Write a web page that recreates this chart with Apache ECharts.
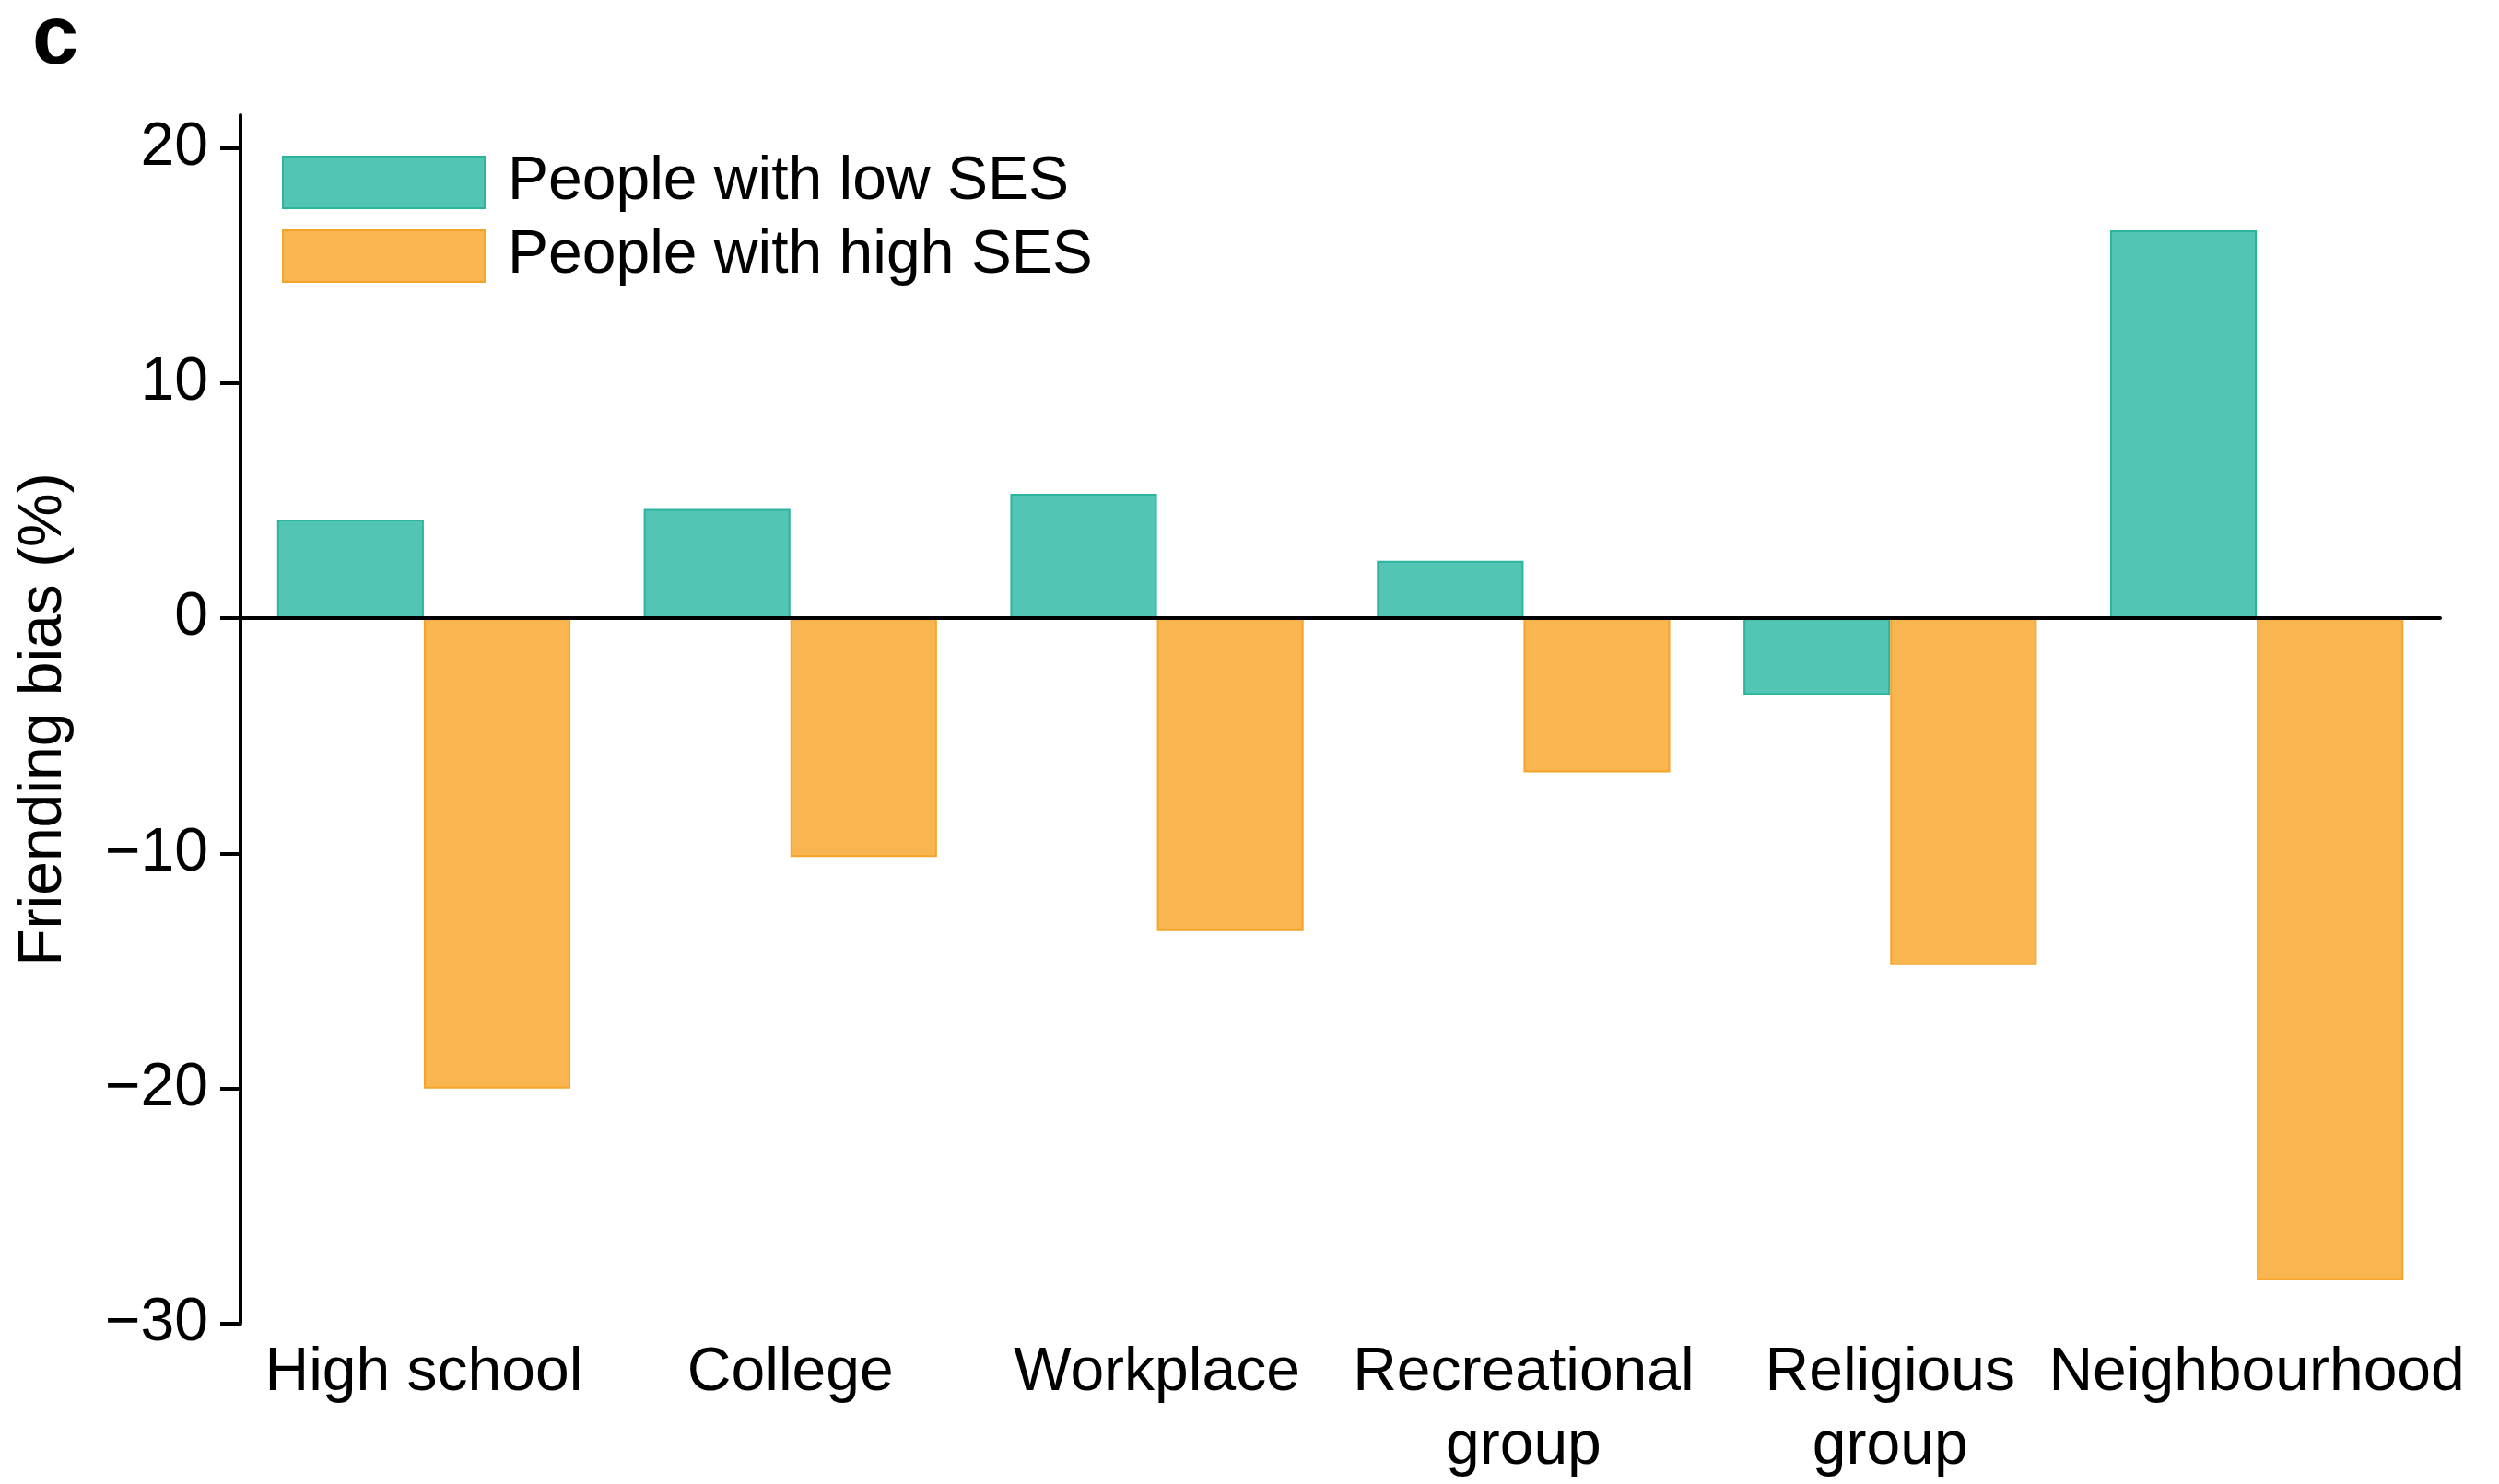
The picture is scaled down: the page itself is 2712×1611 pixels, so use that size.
<!DOCTYPE html>
<html>
<head>
<meta charset="utf-8">
<script src="https://cdn.jsdelivr.net/npm/echarts@6/dist/echarts.min.js"></script>
<style>
html,body{margin:0;padding:0;background:#fff;}
#chart{width:2712px;height:1611px;}
</style>
</head>
<body>
<div id="chart"></div>
<script>
const categories = ['High school', 'College', 'Workplace', 'Recreational\ngroup', 'Religious\ngroup', 'Neighbourhood'];
const lowSES = [4.2, 4.65, 5.3, 2.45, -3.25, 16.5];
const highSES = [-20.0, -10.15, -13.3, -6.55, -14.75, -28.15];
const yTicks = [-30, -20, -10, 0, 10, 20];
const seriesNames = ['People with low SES', 'People with high SES'];

const FONT = '"Liberation Sans", Arial, Helvetica, sans-serif';
const chart = echarts.init(document.getElementById('chart'));
chart.setOption({
  backgroundColor: '#ffffff',
  animation: false,
  textStyle: { fontFamily: FONT },
  title: {
    text: 'c', left: 30, top: -6,
    textStyle: { fontFamily: FONT, fontSize: 90, fontWeight: 900, color: '#000' }
  },
  legend: {
    orient: 'vertical', left: 301, top: 160,
    icon: 'rect',
    itemWidth: 219, itemHeight: 56, itemGap: 14,
    textStyle: { fontFamily: FONT, fontSize: 66, color: '#000', padding: [0, 0, 0, 20] },
    data: seriesNames
  },
  grid: { left: 261, right: 64, top: 125, bottom: 149, containLabel: false },
  xAxis: {
    type: 'category',
    data: categories,
    axisLine: { lineStyle: { color: '#000', width: 4 } },
    axisTick: { show: false },
    axisLabel: { color: '#000', fontSize: 66, fontFamily: FONT, margin: 14, lineHeight: 80, interval: 0 }
  },
  yAxis: {
    type: 'value',
    min: -30, max: 21.4,
    name: 'Friending bias (%)',
    nameLocation: 'middle',
    nameGap: 180,
    nameTextStyle: { color: '#000', fontSize: 66, fontFamily: FONT },
    splitLine: { show: false },
    axisLine: { show: true, lineStyle: { color: '#000', width: 4 } },
    axisTick: { show: true, length: 22, lineStyle: { color: '#000', width: 4 }, customValues: yTicks },
    axisLabel: {
      color: '#000', fontSize: 66, fontFamily: FONT, margin: 35,
      customValues: yTicks,
      formatter: v => String(v).replace('-', '\u2212')
    }
  },
  series: [
    {
      name: seriesNames[0], type: 'bar', data: lowSES,
      barWidth: '40%', barGap: '0%',
      itemStyle: { color: '#52C5B5', borderColor: '#2DB39E', borderWidth: 2 },
      markLine: {
        silent: true, symbol: ['none', 'none'], label: { show: false },
        lineStyle: { color: '#000', width: 4, type: 'solid' },
        data: [{ yAxis: 0 }], z: 10
      }
    },
    {
      name: seriesNames[1], type: 'bar', data: highSES,
      barWidth: '40%', barGap: '0%',
      itemStyle: { color: '#F9B650', borderColor: '#F6A42A', borderWidth: 2 }
    }
  ]
});
</script>
</body>
</html>
